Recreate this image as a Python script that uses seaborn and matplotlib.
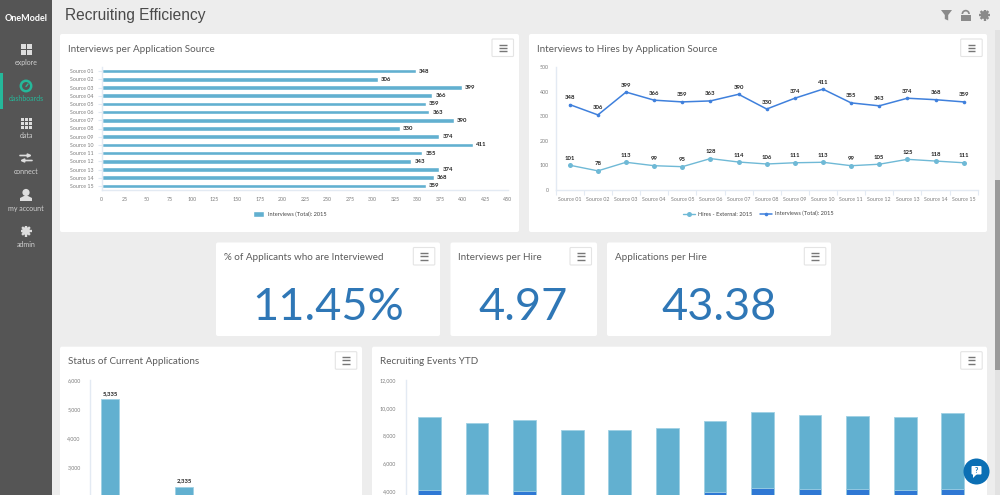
import matplotlib
matplotlib.use('Agg')
import matplotlib.pyplot as plt
from matplotlib.patches import FancyBboxPatch, Rectangle, Circle, Polygon, Wedge
from matplotlib.ticker import FuncFormatter
import numpy as np
import seaborn as sns

# data
sources = ['Source %02d' % i for i in range(1, 16)]
interviews = [348, 306, 399, 366, 359, 363, 390, 330, 374, 411, 355, 343, 374, 368, 359]
hires = [101, 78, 113, 99, 95, 128, 114, 106, 111, 113, 99, 105, 125, 118, 111]
status_names = ['Status A', 'Status B']
status_values = [5335, 2335]
months = ['Jan', 'Feb', 'Mar', 'Apr', 'May', 'Jun', 'Jul', 'Aug', 'Sep', 'Oct', 'Nov', 'Dec']
events_total = [9354, 8900, 9140, 8395, 8395, 8540, 9040, 9690, 9500, 9400, 9310, 9620]
events_lower = [4100, 3760, 4025, 3600, 3600, 3600, 3950, 4235, 4120, 4140, 4090, 4160]
kpi_titles = ['% of Applicants who are Interviewed', 'Interviews per Hire', 'Applications per Hire']
kpi_values = ['11.45%', '4.97', '43.38']
nav_labels = ['explore', 'dashboards', 'data', 'connect', 'my account', 'admin']

W, H = 1000, 495
LIGHT = '#62b0d0'
RIM = '#9fd0e4'
DARK = '#3f80dc'
STACK = '#2f78d4'
AXIS = '#e3eaf3'
TICK = '#7d7d7d'
TITLE = '#5c5c5c'
SMALL = 3.8
VALUE = 4.3

sns.set_theme(style='white')
plt.rcParams['font.family'] = ['Lato', 'DejaVu Sans']

fig = plt.figure(figsize=(W / 100, H / 100), dpi=100, facecolor='#ededed')

# page furniture is drawn in pixel coordinates
bg = fig.add_axes([0, 0, 1, 1], zorder=0)
bg.set_xlim(0, W)
bg.set_ylim(H, 0)
bg.axis('off')

top = fig.add_axes([0, 0, 1, 1], zorder=10)
top.set_xlim(0, W)
top.set_ylim(H, 0)
top.axis('off')
top.patch.set_alpha(0)


def px_axes(l, t, r, b):
    ax = fig.add_axes([l / W, 1 - b / H, (r - l) / W, (b - t) / H], zorder=5)
    ax.patch.set_alpha(0)
    for s in ['top', 'right']:
        ax.spines[s].set_visible(False)
    for s in ['left', 'bottom']:
        ax.spines[s].set_color(AXIS)
        ax.spines[s].set_linewidth(1)
    return ax


def panel(l, t, r, b, title, btn):
    bg.add_patch(FancyBboxPatch((l + 2, t + 2), r - l - 4, b - t - 4, boxstyle='round,pad=2',
                                fc='white', ec='none'))
    bg.text(l + 8, t + 15, title, fontsize=7.1, color=TITLE, va='center', ha='left')
    bg.add_patch(FancyBboxPatch((btn + 1, t + 6), 19.5, 15.5, boxstyle='round,pad=1',
                                fc='white', ec='#e4e4e4', lw=0.8))
    for dy in [10.5, 13.7, 17]:
        bg.plot([btn + 7, btn + 14.5], [t + dy, t + dy], color='#777777', lw=1, solid_capstyle='butt')


def gear(cx, cy, r, color, hole):
    for a in [0, 45, 90, 135]:
        dx, dy = r * np.cos(np.radians(a)), r * np.sin(np.radians(a))
        bg.plot([cx - dx, cx + dx], [cy - dy, cy + dy], color=color, lw=1.7, solid_capstyle='butt')
    bg.add_patch(Circle((cx, cy), r * 0.72, fc=color, ec='none'))
    bg.add_patch(Circle((cx, cy), r * 0.32, fc=hole, ec='none'))


# sidebar
bg.add_patch(Rectangle((0, 0), 52, H, fc='#555555', ec='none'))
bg.add_patch(Rectangle((0, 73), 2.5, 36, fc='#25b89a', ec='none'))
bg.text(26, 18.5, 'OneModel', fontsize=6.5, color='white', ha='center', va='center', fontweight='bold')
nav_y = [62.5, 98.5, 135, 171.5, 208, 244.5]
for name, y in zip(nav_labels, nav_y):
    bg.text(26, y, name, fontsize=5, color='#25b89a' if name == 'dashboards' else '#d0d0d0',
            ha='center', va='center')
# explore icon
for dx in [20.5, 26.5]:
    for dy in [44, 50]:
        bg.add_patch(Rectangle((dx, dy), 5, 5, fc='#dddddd', ec='none'))
# dashboards icon
bg.add_patch(Circle((26, 86), 5.2, fc='none', ec='#25b89a', lw=1.8))
bg.plot([26, 28], [86.5, 84], color='#25b89a', lw=1)
# data icon
for dx in [20.5, 24.5, 28.5]:
    for dy in [117.5, 121.5, 125.5]:
        bg.add_patch(Rectangle((dx, dy), 3, 3, fc='#dddddd', ec='none'))
# connect icon
bg.annotate('', (32, 155.5), (20, 155.5), arrowprops=dict(arrowstyle='-|>', color='#dddddd', lw=1.2, mutation_scale=5, shrinkA=0, shrinkB=0))
bg.annotate('', (20, 160.5), (32, 160.5), arrowprops=dict(arrowstyle='-|>', color='#dddddd', lw=1.2, mutation_scale=5, shrinkA=0, shrinkB=0))
# my account icon
bg.add_patch(Circle((26, 192.5), 3.6, fc='#dddddd', ec='none'))
bg.add_patch(Polygon([(20, 201), (20, 198), (24, 196), (28, 196), (32, 198), (32, 201)], fc='#dddddd', ec='none'))
# admin icon
gear(26, 231, 5.5, '#dddddd', '#555555')

# header
bg.text(65, 15.5, 'Recruiting Efficiency', fontsize=11.2, family='Liberation Sans', color='#4a4a4a', ha='left', va='center')
bg.add_patch(Polygon([(941, 10), (952, 10), (948.2, 15), (948.2, 20.5), (944.8, 19), (944.8, 15)], fc='#8a8a8a', ec='none'))
bg.add_patch(Rectangle((960.5, 14.5), 10.5, 6.2, fc='#8a8a8a', ec='none'))
bg.add_patch(Wedge((965.7, 14), 4.2, 180, 360, width=1.7, fc='#8a8a8a', ec='none'))
gear(984.5, 15, 5.5, '#8a8a8a', '#ededed')

# scrollbar
bg.add_patch(Rectangle((995, 30), 5, H - 30, fc='#e2e2e2', ec='none'))
bg.add_patch(Rectangle((995, 180), 5, 190, fc='#9a9a9a', ec='none'))

# panels
panel(60, 34, 519, 232, 'Interviews per Application Source', 492)
panel(529, 34, 987, 232, 'Interviews to Hires by Application Source', 960.7)
panel(216, 242.5, 440, 336, kpi_titles[0], 413.3)
panel(450.5, 242.5, 597, 336, kpi_titles[1], 570)
panel(607, 242.5, 831, 336, kpi_titles[2], 804.3)
panel(60, 346.7, 362, 520, 'Status of Current Applications', 335.3)
panel(372, 346.7, 987, 520, 'Recruiting Events YTD', 960.7)

for cx, val in zip([328.5, 523, 719], kpi_values):
    bg.text(cx, 307.5, val, fontsize=32.5, color='#2f77b6', ha='center', va='center')

# interviews per source
ax = px_axes(101.7, 67, 508, 190)
sns.barplot(x=interviews, y=sources, color=LIGHT, saturation=1, width=0.56, orient='h', ax=ax,
            label='Interviews (Total): 2015')
ax.set_xlim(0, 450)
ax.set_xticks(np.arange(0, 451, 25))
ax.tick_params(axis='x', labelsize=SMALL, labelcolor=TICK, length=0, pad=5)
ax.tick_params(axis='y', labelsize=SMALL, labelcolor=TICK, left=True, length=3, color=AXIS, width=0.8, pad=3)
ax.bar_label(ax.containers[0], fontsize=VALUE, fontweight='bold', color='#222222', padding=2.3)
ax.set_xlabel('')
ax.set_ylabel('')
ax.legend(loc='center', bbox_to_anchor=(0.4626, -0.195), frameon=False, fontsize=4.1, labelcolor='#444444',
          handlelength=2, handleheight=1.4, handletextpad=0.7)

# interviews vs hires
ax = px_axes(555.7, 67.3, 977.7, 190)
sns.lineplot(x=sources, y=hires, color='#6fb9d6', marker='o', markersize=3.6, markeredgecolor='none',
             linewidth=1, sort=False, ax=ax, label='Hires - External: 2015')
sns.lineplot(x=sources, y=interviews, color=DARK, marker='o', markersize=2.6, markeredgecolor='none',
             linewidth=1.1, sort=False, ax=ax, label='Interviews (Total): 2015')
for series in [hires, interviews]:
    for i, v in enumerate(series):
        ax.annotate(str(v), (i, v), xytext=(0, 3.2), textcoords='offset points', ha='center', va='bottom',
                    fontsize=VALUE, fontweight='bold', color='#222222')
ax.set_xlim(-0.5, 14.5)
ax.set_ylim(0, 500)
ax.set_yticks([0, 100, 200, 300, 400, 500])
ax.set_xticks(np.arange(-0.5, 15, 1), minor=True)
ax.tick_params(axis='x', which='major', labelsize=SMALL, labelcolor=TICK, length=0, pad=5)
ax.tick_params(axis='x', which='minor', length=3.5, color=AXIS, width=0.8, bottom=True)
ax.tick_params(axis='y', labelsize=SMALL, labelcolor=TICK, length=0, pad=5)
ax.set_xlabel('')
ax.set_ylabel('')
ax.legend(loc='center', bbox_to_anchor=(0.48, -0.195), frameon=False, fontsize=4.1, labelcolor='#444444', ncol=2,
          handlelength=2.2, columnspacing=1.3, handletextpad=0.5)

# status of applications, runs off the bottom of the screenshot
thousands = FuncFormatter(lambda v, p: format(int(v), ','))
ax = px_axes(90.3, 380, 350, 555.2)
sns.barplot(x=status_names, y=status_values, color=LIGHT, saturation=1, width=0.24, edgecolor=RIM, linewidth=0.6, ax=ax)
ax.set_xlim(-0.27, 3.24)
ax.set_ylim(0, 6000)
ax.set_yticks(np.arange(3000, 6001, 1000))
ax.yaxis.set_major_formatter(thousands)
ax.tick_params(axis='y', labelsize=SMALL, labelcolor=TICK, length=0, pad=7)
ax.set_xticks([])
ax.set_xlabel('')
ax.set_ylabel('')
ax.bar_label(ax.containers[0], labels=[format(v, ',') for v in status_values], fontsize=VALUE,
             fontweight='bold', color='#222222', padding=2.5)

# recruiting events, stacked
ax = px_axes(405.7, 380, 976.5, 546.4)
sns.barplot(x=months, y=events_total, color=LIGHT, saturation=1, width=0.478, edgecolor=RIM, linewidth=0.6, ax=ax)
sns.barplot(x=months, y=events_lower, color=STACK, saturation=1, width=0.478, edgecolor=RIM, linewidth=0.6, ax=ax)
ax.set_xlim(-0.5, 11.5)
ax.set_ylim(0, 12000)
ax.set_yticks(np.arange(4000, 12001, 2000))
ax.yaxis.set_major_formatter(thousands)
ax.tick_params(axis='y', labelsize=SMALL, labelcolor=TICK, length=0, pad=7)
ax.set_xticks([])
ax.set_xlabel('')
ax.set_ylabel('')

# help button
top.add_patch(Circle((976.5, 471.5), 13, fc='#0b6fb4', ec='none'))
top.add_patch(FancyBboxPatch((972.5, 467), 8, 6.5, boxstyle='round,pad=1', fc='white', ec='none'))
top.add_patch(Polygon([(973, 474), (973, 478), (977, 474)], fc='white', ec='none'))
top.text(976.5, 470.5, '?', fontsize=5, fontweight='bold', color='#0b6fb4', ha='center', va='center')

fig.savefig('out.png', dpi=100, facecolor=fig.get_facecolor())
